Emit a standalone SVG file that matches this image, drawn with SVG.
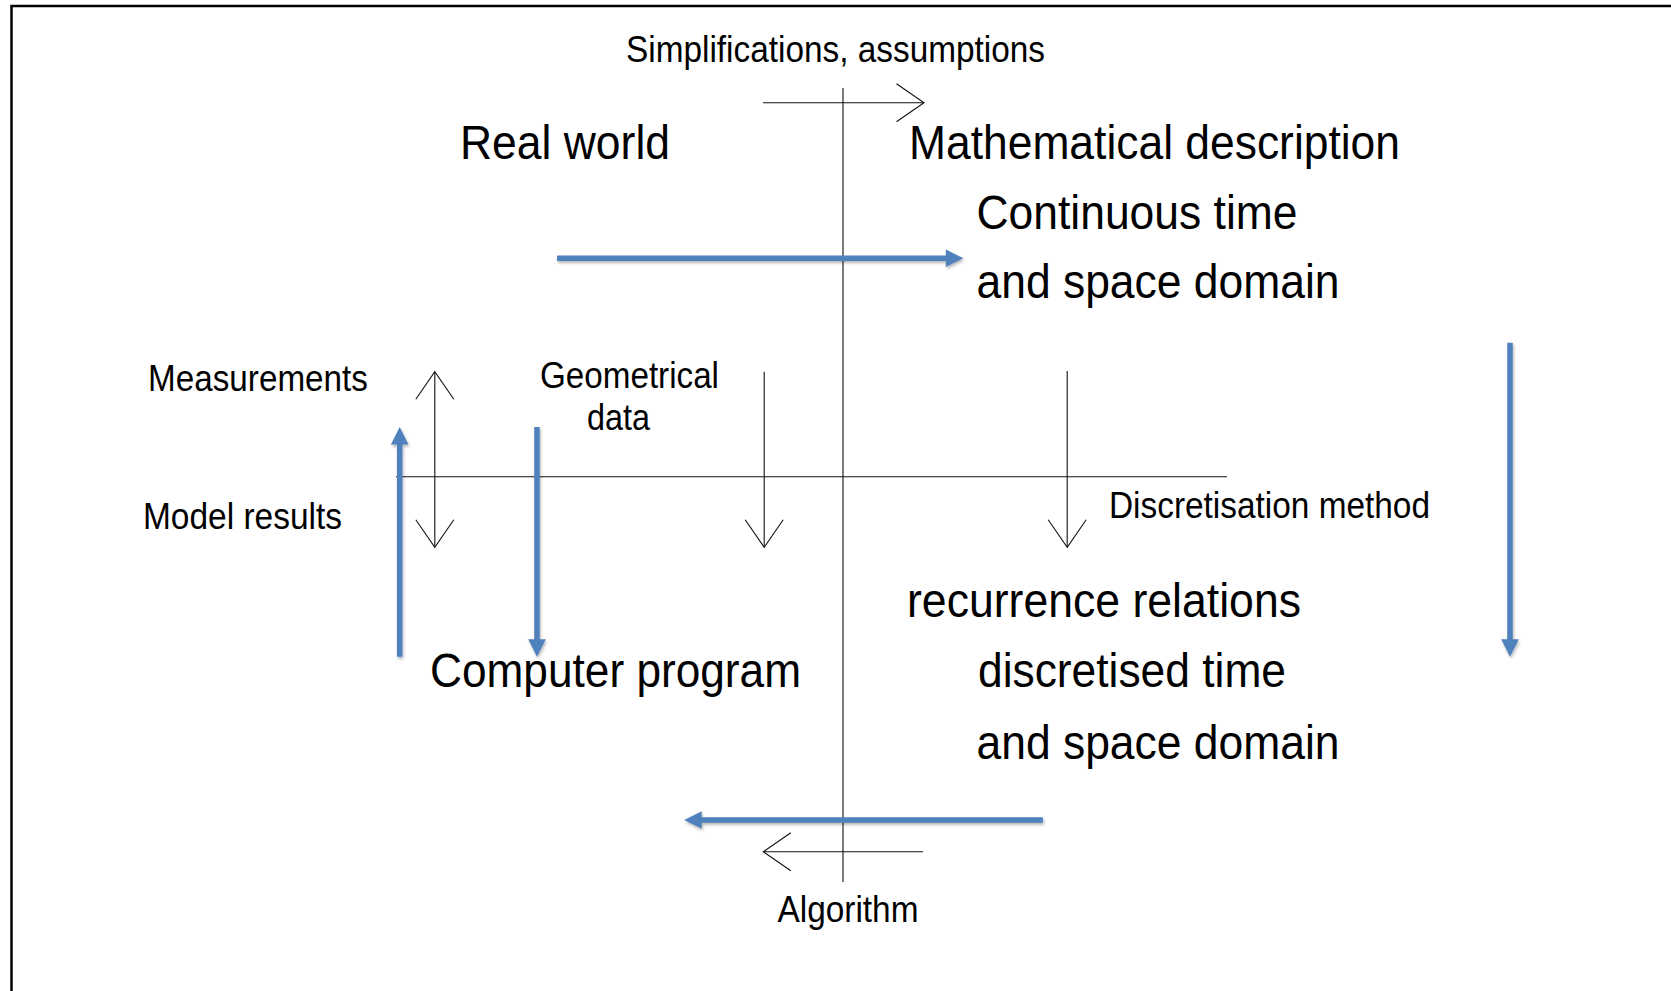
<svg xmlns="http://www.w3.org/2000/svg" width="1671" height="991" viewBox="0 0 1671 991">
  <style>
    .t { font-family: "Liberation Sans", Arial, Helvetica, sans-serif; fill: #000; }
    .big { font-size: 48px; }
    .small { font-size: 36px; }
    .thin { stroke: #111; stroke-width: 1.1; fill: none; }
    .blue { stroke: #4F81BD; stroke-width: 5.5; fill: none; }
  </style>
  <defs>
    <filter id="sh" filterUnits="userSpaceOnUse" x="0" y="0" width="1671" height="991">
      <feDropShadow dx="1" dy="2" stdDeviation="1.4" flood-color="#000" flood-opacity="0.3"/>
    </filter>
    <marker id="open" markerUnits="userSpaceOnUse" viewBox="-30 -22 32 44" markerWidth="32" markerHeight="44" refX="0" refY="0" orient="auto-start-reverse">
      <path d="M-27.5,-19 L0,0 L-27.5,19" fill="none" stroke="#111" stroke-width="1.1"/>
    </marker>
    <marker id="bh" markerUnits="userSpaceOnUse" viewBox="-2 -10 20 20" markerWidth="20" markerHeight="20" refX="0" refY="0" orient="auto">
      <path d="M-1,-8.8 L16.5,0 L-1,8.8 Z" fill="#4F81BD"/>
    </marker>
  </defs>

  <rect x="0" y="0" width="1671" height="991" fill="#fff"/>
  <path d="M11.5,991 V6 H1671" fill="none" stroke="#000" stroke-width="2.5"/>

  <g id="connectors">
    <!-- axes -->
    <line class="thin" x1="843" y1="88" x2="843" y2="882"/>
    <line class="thin" x1="396" y1="476.7" x2="1227" y2="476.7"/>
    <!-- thin arrows -->
    <line class="thin" x1="763" y1="102.7" x2="924" y2="102.7" marker-end="url(#open)"/>
    <line class="thin" x1="923" y1="851.7" x2="763.3" y2="851.7" marker-end="url(#open)"/>
    <line class="thin" x1="434.8" y1="371.7" x2="434.8" y2="547.3" marker-start="url(#open)" marker-end="url(#open)"/>
    <line class="thin" x1="764.2" y1="371.7" x2="764.2" y2="547.3" marker-end="url(#open)"/>
    <line class="thin" x1="1067.2" y1="371" x2="1067.2" y2="547.3" marker-end="url(#open)"/>
    <!-- blue arrows -->
    <g filter="url(#sh)">
      <line class="blue" x1="557" y1="258.3" x2="946.8" y2="258.3" marker-end="url(#bh)"/>
      <line class="blue" x1="399.7" y1="656.7" x2="399.7" y2="443.5" marker-end="url(#bh)"/>
      <line class="blue" x1="537" y1="427" x2="537" y2="640.2" marker-end="url(#bh)"/>
      <line class="blue" x1="1510" y1="342.7" x2="1510" y2="640.2" marker-end="url(#bh)"/>
      <line class="blue" x1="1042.9" y1="820" x2="700.7" y2="820" marker-end="url(#bh)"/>
    </g>
  </g>

  <g id="labels">
    <text id="simplifications" class="t small" x="626" y="62" textLength="419" lengthAdjust="spacingAndGlyphs">Simplifications, assumptions</text>
    <text id="measurements" class="t small" x="148" y="391" textLength="220" lengthAdjust="spacingAndGlyphs">Measurements</text>
    <text id="model-results" class="t small" x="143" y="529" textLength="199" lengthAdjust="spacingAndGlyphs">Model results</text>
    <g id="geometrical-data">
      <text class="t small" x="540" y="387.7" textLength="179" lengthAdjust="spacingAndGlyphs">Geometrical</text>
      <text class="t small" x="587" y="430" textLength="63" lengthAdjust="spacingAndGlyphs">data</text>
    </g>
    <text id="discretisation" class="t small" x="1109" y="517.7" textLength="321" lengthAdjust="spacingAndGlyphs">Discretisation method</text>
    <text id="algorithm" class="t small" x="777.5" y="922" textLength="141" lengthAdjust="spacingAndGlyphs">Algorithm</text>
  </g>

  <g id="node-real-world">
    <text class="t big" x="460" y="159" textLength="210" lengthAdjust="spacingAndGlyphs">Real world</text>
  </g>
  <g id="node-math">
    <text class="t big" x="909" y="158.5" textLength="491" lengthAdjust="spacingAndGlyphs">Mathematical description</text>
    <text class="t big" x="976.5" y="229" textLength="321" lengthAdjust="spacingAndGlyphs">Continuous time</text>
    <text class="t big" x="976.5" y="298" textLength="363" lengthAdjust="spacingAndGlyphs">and space domain</text>
  </g>
  <g id="node-computer-program">
    <text class="t big" x="430" y="687" textLength="371" lengthAdjust="spacingAndGlyphs">Computer program</text>
  </g>
  <g id="node-recurrence">
    <text class="t big" x="907" y="617" textLength="394" lengthAdjust="spacingAndGlyphs">recurrence relations</text>
    <text class="t big" x="978" y="687" textLength="308" lengthAdjust="spacingAndGlyphs">discretised time</text>
    <text class="t big" x="976.5" y="759" textLength="363" lengthAdjust="spacingAndGlyphs">and space domain</text>
  </g>
</svg>
